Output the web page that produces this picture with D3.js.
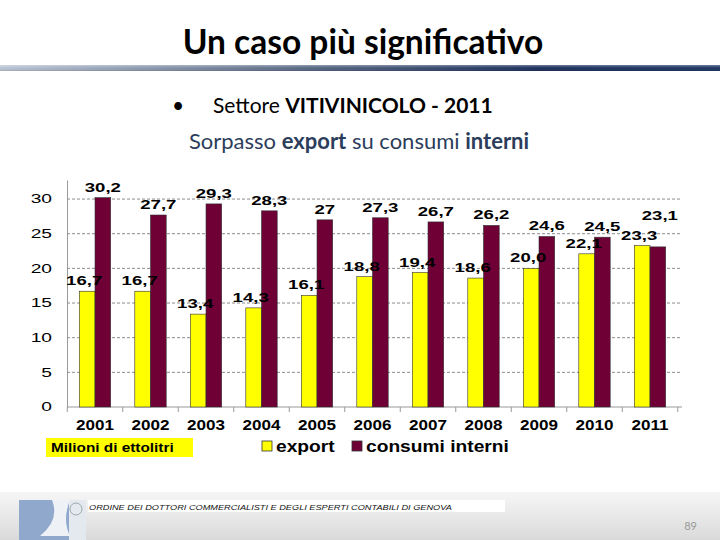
<!DOCTYPE html>
<html><head><meta charset="utf-8">
<script src="https://cdn.jsdelivr.net/npm/d3@7"></script>
<style>html,body{margin:0;padding:0;background:#fff;}svg{display:block;}</style>
</head><body>
<svg id="c" width="720" height="540"></svg>
<script>
const years = ["2001","2002","2003","2004","2005","2006","2007","2008","2009","2010","2011"];
const exportVals = [16.7,16.7,13.4,14.3,16.1,18.8,19.4,18.6,20.0,22.1,23.3];
const consumiVals = [30.2,27.7,29.3,28.3,27,27.3,26.7,26.2,24.6,24.5,23.1];
const exportLabels = ["16,7","16,7","13,4","14,3","16,1","18,8","19,4","18,6","20,0","22,1","23,3"];
const consumiLabels = ["30,2","27,7","29,3","28,3","27","27,3","26,7","26,2","24,6","24,5","23,1"];
const yTicks = [0,5,10,15,20,25,30];
const seriesNames = ["export","consumi interni"];
const colors = ["#ffff00","#6e0035"];

const svg = d3.select("#c");
const defs = svg.append("defs");
const lg = defs.append("linearGradient").attr("id","rule").attr("x1","0").attr("x2","1");
lg.append("stop").attr("offset","0").attr("stop-color","#b9c3d3");
lg.append("stop").attr("offset","0.45").attr("stop-color","#52627e");
lg.append("stop").attr("offset","0.75").attr("stop-color","#1b2f5c");
lg.append("stop").attr("offset","1").attr("stop-color","#1e3663");
const fg = defs.append("linearGradient").attr("id","foot").attr("x1","0").attr("x2","0").attr("y1","0").attr("y2","1");
fg.append("stop").attr("offset","0").attr("stop-color","#f6f6f6");
fg.append("stop").attr("offset","1").attr("stop-color","#dadada");
const sh = defs.append("linearGradient").attr("id","shine").attr("x1","0").attr("x2","0").attr("y1","0").attr("y2","1");
sh.append("stop").attr("offset","0").attr("stop-color","#fff").attr("stop-opacity","0.35");
sh.append("stop").attr("offset","0.5").attr("stop-color","#fff").attr("stop-opacity","0");
sh.append("stop").attr("offset","1").attr("stop-color","#000").attr("stop-opacity","0.15");

const font = "'Liberation Sans', Arial, sans-serif";
// horizontally stretched text helper (reference uses a wide-rendered Arial)
function wide(sel, x, y, sx) {
  return sel.attr("x",0).attr("y",0).attr("transform",`translate(${x},${y}) scale(${sx},1)`);
}

// Title
svg.append("text").attr("x",363).attr("y",54).attr("text-anchor","middle")
  .attr("font-family","Lato, 'Open Sans', sans-serif").attr("font-weight","700").attr("font-size",33.5)
  .attr("fill","#000").text("Un caso più significativo");
svg.append("rect").attr("x",0).attr("y",65).attr("width",720).attr("height",6).attr("fill","url(#rule)");
svg.append("rect").attr("x",0).attr("y",65).attr("width",720).attr("height",6).attr("fill","url(#shine)");

// Subtitles
svg.append("text").attr("x",172).attr("y",113).attr("font-family","Lato, sans-serif").attr("font-size",21).attr("fill","#000").text("•");
const s1 = svg.append("text").attr("x",213).attr("y",113).attr("font-family","Lato, sans-serif").attr("font-size",21).attr("fill","#000");
s1.append("tspan").text("Settore ");
s1.append("tspan").attr("font-weight","700").text("VITIVINICOLO - 2011");
const s2 = svg.append("text").attr("x",359).attr("y",149).attr("text-anchor","middle").attr("font-family","Lato, sans-serif").attr("font-size",22).attr("fill","#2c3d5c");
s2.append("tspan").text("Sorpasso ");
s2.append("tspan").attr("font-weight","700").text("export");
s2.append("tspan").text(" su consumi ");
s2.append("tspan").attr("font-weight","700").text("interni");

// Chart
const x0 = d3.scaleBand().domain(years).range([67.25, 677.75]).paddingInner(0).paddingOuter(0);
const pair = 31.4;
const x1 = d3.scaleBand().domain(seriesNames).range([(x0.bandwidth()-pair)/2, (x0.bandwidth()+pair)/2]);
const y = d3.scaleLinear().domain([0, 32.75]).range([407, 180]);

// gridlines
svg.append("g").selectAll("line").data(yTicks.filter(d=>d>0)).join("line")
  .attr("x1",67).attr("x2",682).attr("y1",d=>y(d)).attr("y2",d=>y(d))
  .attr("stroke","#8c8c8c").attr("stroke-width",1).attr("stroke-dasharray","3,2");

// y axis
const ySx = 1.6;
const yAxis = svg.append("g").attr("transform","translate(67,0)")
  .call(d3.axisLeft(y).tickValues(yTicks).tickSize(0).tickPadding(15).tickFormat(d3.format("d")));
yAxis.select(".domain").attr("stroke","#999");
yAxis.selectAll("text").attr("font-family",font).attr("font-size",12).attr("fill","#000")
  .attr("x",-15/ySx).attr("transform",`scale(${ySx},1)`);

// x axis
const xSx = 1.22;
const xAxis = svg.append("g").attr("transform","translate(0,407)")
  .call(d3.axisBottom(x0).tickSize(0).tickPadding(10));
xAxis.select(".domain").attr("stroke","#999").attr("d","M67,0H682");
xAxis.selectAll("text").attr("font-family",font).attr("font-size",14).attr("font-weight","700").attr("fill","#000")
  .attr("dy","0.95em").attr("transform",`scale(${xSx},1)`);
svg.append("g").selectAll("line").data(years.concat(["end"])).join("line")
  .attr("x1",(d,i)=> i<years.length ? x0(d) : x0.range()[1])
  .attr("x2",(d,i)=> i<years.length ? x0(d) : x0.range()[1])
  .attr("y1",407).attr("y2",412).attr("stroke","#999");

// bars
const rows = years.map((yr,i)=>({year:yr, vals:[exportVals[i],consumiVals[i]], labels:[exportLabels[i],consumiLabels[i]]}));
const groups = svg.append("g").selectAll("g").data(rows).join("g")
  .attr("transform",d=>`translate(${x0(d.year)},0)`);
groups.selectAll("rect").data(d=>d.vals.map((v,j)=>({v, s:seriesNames[j], j}))).join("rect")
  .attr("x",d=>x1(d.s)).attr("width",x1.bandwidth())
  .attr("y",d=>y(d.v)).attr("height",d=>y(0)-y(d.v))
  .attr("fill",d=>colors[d.j]).attr("stroke","#333").attr("stroke-width",0.6);

// value labels
groups.selectAll("text.v").data((d,i)=>d.vals.map((v,j)=>({v, s:seriesNames[j], j, lab:d.labels[j], last:i===years.length-1}))).join("text")
  .attr("class","v")
  .attr("text-anchor","middle").attr("font-family",font).attr("font-size",12).attr("font-weight","700").attr("fill","#000")
  .each(function(d){
    const lx = x1(d.s)+x1.bandwidth()/2 + (d.j===0 ? -3 : 0) + (d.last && d.j===1 ? 2 : 0);
    const ly = y(d.v) - 6 - (d.last && d.j===1 ? 21 : 0);
    wide(d3.select(this), lx, ly, 1.55);
  })
  .text(d=>d.lab);

// unit box
svg.append("rect").attr("x",46).attr("y",438).attr("width",147).attr("height",19).attr("fill","#ffff00");
wide(svg.append("text"),51,452,1.28).attr("font-family",font).attr("font-size",12).attr("font-weight","700").attr("fill","#000").text("Milioni di ettolitri");

// legend
const leg = svg.append("g").selectAll("g").data(seriesNames).join("g")
  .attr("transform",(d,i)=>`translate(${i===0?262:352},441)`);
leg.append("rect").attr("width",10).attr("height",10).attr("fill",(d,i)=>colors[i]).attr("stroke","#333").attr("stroke-width",0.8);
leg.append("text").attr("font-family",font).attr("font-size",16).attr("font-weight","700").attr("fill","#000")
  .each(function(){ wide(d3.select(this),14,11,1.2); })
  .text(d=>d);

// footer
svg.append("rect").attr("x",0).attr("y",492).attr("width",720).attr("height",48).attr("fill","url(#foot)");
svg.append("rect").attr("x",88).attr("y",500).attr("width",417).attr("height",12).attr("fill","#fff");
svg.append("rect").attr("x",19).attr("y",500).attr("width",67).attr("height",40).attr("fill","#e4e9f0");
svg.append("rect").attr("x",19).attr("y",500).attr("width",50).attr("height",40).attr("fill","#8fa8cc");
svg.append("path").attr("d","M52,500 Q60,520 40,536 L70,536 Q62,520 70,500 Z").attr("fill","#eef2f7");
svg.append("circle").attr("cx",76).attr("cy",509).attr("r",6).attr("fill","none").attr("stroke","#9aa").attr("stroke-width",1);
wide(svg.append("text"),89,510,1.15).attr("font-family",font).attr("font-size",8).attr("font-style","italic").attr("fill","#111")
  .text("ORDINE DEI  DOTTORI  COMMERCIALISTI E DEGLI ESPERTI CONTABILI DI GENOVA");
svg.append("text").attr("x",697).attr("y",530).attr("text-anchor","end").attr("font-family","Lato, sans-serif").attr("font-size",11).attr("fill","#999").text("89");
</script>
</body></html>
